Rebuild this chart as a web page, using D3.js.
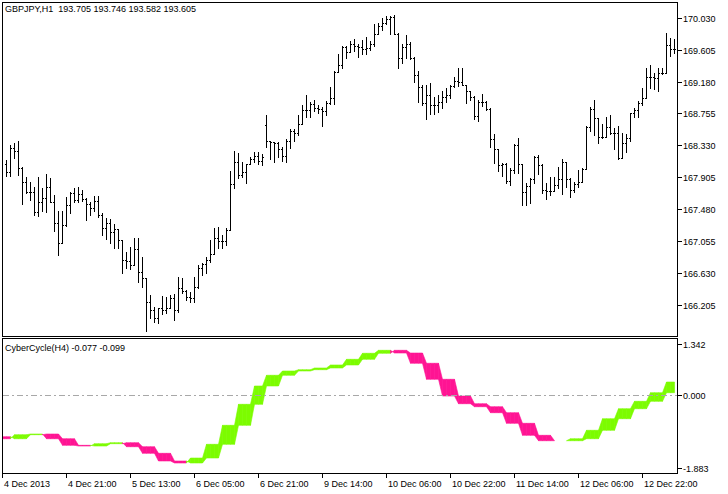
<!DOCTYPE html>
<html><head><meta charset="utf-8">
<script src="https://cdn.jsdelivr.net/npm/d3@7"></script>
<style>
html,body{margin:0;padding:0;background:#fff;}
svg{display:block;font-family:"Liberation Sans",Arial,sans-serif;font-size:9px;}
</style></head><body>
<svg id="c" width="728" height="494"></svg>
<script>
// ---------------- DATA ----------------
const symbolLabel = "GBPJPY,H1  193.705 193.746 193.582 193.605";
const indicatorLabel = "CyberCycle(H4) -0.077 -0.099";

const barHigh = [168.135,168.335,168.358,168.388,168.046,167.913,167.847,167.780,167.913,167.759,
167.945,167.892,167.669,167.456,167.456,167.647,167.705,167.759,167.780,167.736,
167.633,167.572,167.660,167.660,167.426,167.359,167.350,167.283,167.217,167.070,
166.914,166.981,167.093,167.093,166.848,166.568,166.338,166.182,166.169,166.329,
166.315,166.338,166.347,166.582,166.560,166.404,166.382,166.582,166.737,166.760,
166.848,167.070,167.226,167.247,167.137,167.226,167.989,168.255,168.225,168.113,
168.078,168.179,168.246,168.246,168.211,168.735,168.388,168.379,168.379,168.313,
168.415,168.548,168.548,168.735,168.868,169.001,168.912,168.934,168.868,168.845,
168.921,169.111,169.321,169.543,169.657,169.650,169.720,169.747,169.676,169.733,
169.777,169.720,169.942,169.956,170.030,170.057,170.057,170.066,169.823,169.676,
169.800,169.711,169.511,169.321,169.134,169.134,169.157,168.978,169.001,169.054,
169.090,169.134,169.245,169.357,169.357,169.134,169.058,168.988,168.934,169.014,
168.925,168.824,168.482,168.278,168.100,168.092,168.025,168.349,168.424,168.082,
167.833,167.892,168.189,168.202,168.082,167.833,167.905,167.913,168.046,168.145,
168.113,167.892,167.847,168.002,168.025,168.588,168.837,168.934,168.691,168.615,
168.704,168.735,168.558,168.588,168.491,168.482,168.757,168.824,168.925,169.090,
169.357,169.400,169.298,169.357,169.357,169.823,169.756,169.743];

const barLow = [167.926,167.926,168.158,167.936,167.550,167.692,167.603,167.403,167.394,167.456,
167.447,167.572,167.190,166.870,167.026,167.261,167.426,167.572,167.572,167.590,
167.337,167.403,167.456,167.380,167.137,167.080,167.026,166.968,166.960,166.627,
166.693,166.684,166.737,166.507,166.448,165.862,166.036,165.974,165.961,166.081,
166.094,166.161,166.005,166.107,166.360,166.271,166.241,166.249,166.435,166.604,
166.627,166.781,166.880,166.960,166.968,167.004,167.203,167.759,167.900,167.913,
167.825,168.078,168.113,168.078,168.069,168.313,168.149,168.113,168.179,168.122,
168.113,168.291,168.388,168.468,168.611,168.712,168.712,168.788,168.757,168.592,
168.735,168.877,168.877,169.303,169.364,169.498,169.570,169.587,169.511,169.543,
169.543,169.600,169.657,169.809,169.867,169.942,169.809,169.809,169.364,169.423,
169.490,169.480,169.170,168.912,168.868,168.681,168.744,168.744,168.771,168.832,
168.912,168.957,169.111,169.121,169.134,168.898,168.934,168.677,168.659,168.855,
168.800,168.305,168.100,167.993,167.922,167.825,167.803,167.958,167.966,167.536,
167.536,167.567,167.833,167.949,167.700,167.612,167.669,167.727,167.759,167.683,
167.780,167.639,167.713,167.780,167.840,168.012,168.526,168.468,168.366,168.424,
168.438,168.482,168.278,168.145,168.158,168.246,168.392,168.712,168.712,168.868,
168.957,169.090,169.077,169.058,169.281,169.298,169.520,169.556];

const barOpen = [168.078,167.972,168.299,168.255,168.033,167.847,167.713,167.713,167.447,167.572,
167.625,167.780,167.572,167.293,167.026,167.270,167.536,167.692,167.603,167.679,
167.616,167.546,167.492,167.590,167.403,167.226,167.293,167.173,167.217,167.070,
166.804,166.791,166.737,166.950,166.648,166.568,166.241,166.138,166.036,166.161,
166.138,166.169,166.302,166.138,166.435,166.391,166.315,166.302,166.448,166.701,
166.747,166.804,166.880,167.093,167.057,167.057,167.203,167.812,168.113,167.936,
167.980,168.078,168.149,168.193,168.122,168.602,168.388,168.379,168.358,168.282,
168.193,168.388,168.522,168.491,168.611,168.801,168.801,168.877,168.824,168.815,
168.788,168.890,168.957,169.311,169.400,169.644,169.578,169.676,169.657,169.644,
169.614,169.623,169.676,169.809,169.924,169.956,170.013,170.044,169.809,169.490,
169.644,169.676,169.490,169.267,169.111,168.890,169.001,168.868,168.868,168.912,
168.978,169.001,169.125,169.191,169.178,169.134,169.058,168.970,168.721,168.912,
168.912,168.811,168.411,168.278,168.069,168.082,167.860,168.002,168.335,168.082,
167.713,167.789,167.878,168.179,168.069,167.736,167.727,167.727,167.803,167.878,
168.113,167.878,167.736,167.816,167.847,168.012,168.579,168.811,168.691,168.438,
168.438,168.579,168.491,168.491,168.158,168.366,168.424,168.757,168.801,168.890,
168.957,169.245,169.237,169.223,169.298,169.298,169.667,169.610];

const barClose = [167.972,168.299,168.255,168.033,167.847,167.713,167.713,167.447,167.572,167.625,
167.780,167.572,167.293,167.026,167.270,167.536,167.692,167.603,167.679,167.616,
167.546,167.492,167.590,167.403,167.226,167.293,167.173,167.217,167.070,166.804,
166.791,166.737,166.950,166.648,166.568,166.241,166.138,166.036,166.161,166.138,
166.169,166.302,166.138,166.435,166.391,166.315,166.302,166.448,166.701,166.747,
166.804,166.880,167.093,167.057,167.057,167.203,167.812,168.113,167.936,167.980,
168.078,168.149,168.193,168.122,168.179,168.388,168.379,168.358,168.282,168.193,
168.388,168.522,168.491,168.611,168.801,168.801,168.877,168.824,168.815,168.788,
168.890,168.957,169.311,169.400,169.644,169.578,169.676,169.657,169.644,169.614,
169.623,169.676,169.809,169.924,169.956,170.013,170.044,169.809,169.490,169.644,
169.676,169.490,169.267,169.111,168.890,169.001,168.868,168.868,168.912,168.978,
169.001,169.125,169.191,169.178,169.134,169.058,168.970,168.721,168.912,168.912,
168.811,168.411,168.278,168.069,168.082,167.860,168.002,168.335,168.082,167.713,
167.789,167.878,168.179,168.069,167.736,167.727,167.727,167.803,167.878,168.113,
167.878,167.736,167.816,167.847,168.012,168.579,168.811,168.691,168.438,168.438,
168.579,168.491,168.491,168.158,168.366,168.424,168.757,168.801,168.890,168.957,
169.245,169.237,169.223,169.298,169.298,169.667,169.610,169.610];

// CyberCycle on H4, one value per H4 bar (first = the H4 bar before the first visible H1 bar)
const cycleH4 = [-1.070,-1.122,-1.018,-1.000,-1.122,-1.293,-1.311,-1.251,-1.225,-1.329,
-1.500,-1.699,-1.751,-1.622,-1.267,-0.775,-0.231,0.244,0.521,0.632,
0.666,0.710,0.788,0.935,1.091,1.168,1.098,0.832,0.417,-0.016,
-0.215,-0.293,-0.448,-0.723,-1.034,-1.174,-1.174,-1.122,-0.904,-0.604,
-0.345,-0.153,0.070,0.347];

const priceTicks = [170.030,169.605,169.180,168.755,168.330,167.905,167.480,167.055,166.630,166.205];
const cycleTicks = [1.342, 0.000, -1.883];
const timeLabels = ["4 Dec 2013","4 Dec 21:00","5 Dec 13:00","6 Dec 05:00","6 Dec 21:00","9 Dec 14:00",
  "10 Dec 06:00","10 Dec 22:00","11 Dec 14:00","12 Dec 06:00","12 Dec 22:00"];
const timeLabelBars = [-1,15,31,47,63,79,95,111,127,143,159];
const firstBarTime = new Date(2013, 11, 4, 6, 0);

// ---------------- LAYOUT ----------------
const n = barClose.length;
const left = 2, right = 677.5;
const mainTop = 2, mainBottom = 336;
const indTop = 338.5, indBottom = 473.5;
const green = "#7CFC00", pink = "#FF1493";

const svg = d3.select("#c");
const x = d3.scaleLinear().domain([0, n - 1]).range([6.5, 6.5 + 4 * (n - 1)]);
const y = d3.scaleLinear().domain([166.205, 170.030]).range([305, 17.67]);
const yi = d3.scaleLinear().domain([-1.883, 1.342]).range([468.1, 343.6]);

// bar times (market closed Fri 23:00 -> Mon 00:00)
function closed(d){const wd=d.getDay(),h=d.getHours();return (wd===5&&h>=23)||wd===6||wd===0;}
const times = [];
{ let t = new Date(firstBarTime);
  for (let i=0;i<n;i++){ times.push(new Date(t)); t=new Date(t.getTime()+3600e3); while(closed(t)) t=new Date(t.getTime()+3600e3); } }
// H4 block index per bar
const blockOf = []; { let b=0, prevKey=null;
  times.forEach((t,i)=>{ const key=t.toDateString()+"_"+Math.floor(t.getHours()/4);
    if(prevKey!==null && key!==prevKey) b++; prevKey=key; blockOf.push(b); }); }

// clip paths
const defs = svg.append("defs");
defs.append("clipPath").attr("id","clipMain").append("rect")
  .attr("x",left+0.5).attr("y",mainTop+0.5).attr("width",right-left-1).attr("height",mainBottom-mainTop-1);
defs.append("clipPath").attr("id","clipInd").append("rect")
  .attr("x",left+0.5).attr("y",indTop+0.5).attr("width",right-left-1).attr("height",indBottom-indTop-1);

// ---------------- MAIN PANE ----------------
const gBars = svg.append("g").attr("clip-path","url(#clipMain)").attr("shape-rendering","crispEdges").attr("fill","#000");
d3.range(n).forEach(i=>{
  const cx = Math.round(x(i)-0.5);
  const yh = Math.round(y(barHigh[i])), yl = Math.round(y(barLow[i]));
  gBars.append("rect").attr("x",cx).attr("y",yh).attr("width",1).attr("height",Math.max(1,yl-yh+1));
  gBars.append("rect").attr("x",cx-1).attr("y",Math.round(y(barOpen[i]))).attr("width",1).attr("height",1);
  gBars.append("rect").attr("x",cx+1).attr("y",Math.round(y(barClose[i]))).attr("width",1).attr("height",1);
});

svg.append("rect").attr("x",left).attr("y",mainTop).attr("width",right-left).attr("height",mainBottom-mainTop)
  .attr("fill","none").attr("stroke","#000").attr("shape-rendering","crispEdges");

svg.append("text").attr("x",5).attr("y",11.5).attr("fill","#000").style("white-space","pre").text(symbolLabel);

const gPA = svg.append("g");
priceTicks.forEach(p=>{
  const yy = Math.round(y(p))+0.5;
  gPA.append("line").attr("x1",right).attr("x2",right+4).attr("y1",yy).attr("y2",yy).attr("stroke","#000").attr("shape-rendering","crispEdges");
  gPA.append("text").attr("x",683).attr("y",yy).attr("dy","0.35em").attr("fill","#000").text(p.toFixed(3));
});

// ---------------- INDICATOR PANE ----------------
const gInd = svg.append("g").attr("clip-path","url(#clipInd)");
const val = i => { const b = blockOf[Math.max(0,i)]; return {a: cycleH4[b+1], t: cycleH4[b]}; };
for (let j=0;j<n;j++){
  const p = val(j-1), c = val(j);
  if (p.a === p.t && c.a === c.t) continue; // equal lines: nothing to fill
  const x0 = j===0 ? x(-1) : x(j-1), x1 = x(j);
  const pts = [[x0,yi(p.a)],[x1,yi(c.a)],[x1,yi(c.t)],[x0,yi(p.t)]];
  const col = (c.a === c.t ? p.a >= p.t : c.a >= c.t) ? green : pink;
  gInd.append("polygon").attr("points",pts.map(d=>d.join(",")).join(" "))
    .attr("fill", col).attr("stroke", col).attr("stroke-width",0.6);
}
// zero level
svg.append("line").attr("x1",left+1).attr("x2",right).attr("y1",Math.round(yi(0))+0.5).attr("y2",Math.round(yi(0))+0.5)
  .attr("stroke","#a8a8a8").attr("stroke-dasharray","6,3,2,3").attr("shape-rendering","crispEdges");

svg.append("rect").attr("x",left).attr("y",indTop).attr("width",right-left).attr("height",indBottom-indTop)
  .attr("fill","none").attr("stroke","#000").attr("shape-rendering","crispEdges");

svg.append("text").attr("x",5).attr("y",351).attr("fill","#000").text(indicatorLabel);

cycleTicks.forEach(v=>{
  const yy = Math.round(yi(v))+0.5;
  gPA.append("line").attr("x1",right).attr("x2",right+4).attr("y1",yy).attr("y2",yy).attr("stroke","#000").attr("shape-rendering","crispEdges");
  gPA.append("text").attr("x",683).attr("y",yy).attr("dy","0.35em").attr("fill","#000").text(v.toFixed(3));
});

// ---------------- TIME AXIS ----------------
timeLabels.forEach((lab,k)=>{
  const xx = Math.round(x(timeLabelBars[k])-0.5)+0.5;
  svg.append("line").attr("x1",xx).attr("x2",xx).attr("y1",indBottom).attr("y2",indBottom+4).attr("stroke","#000").attr("shape-rendering","crispEdges");
  svg.append("text").attr("x",xx+1.5).attr("y",486.5).attr("fill","#000").text(lab);
});
</script>
</body></html>
